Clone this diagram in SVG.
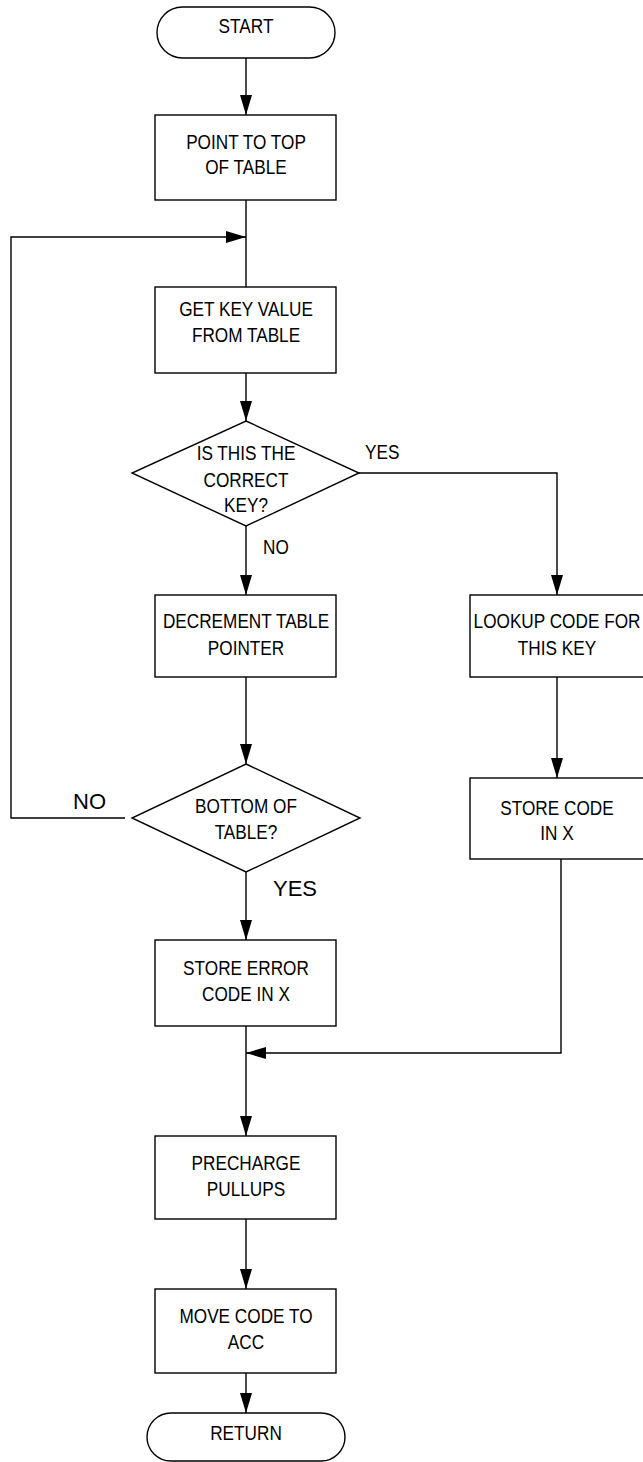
<svg xmlns="http://www.w3.org/2000/svg" width="643" height="1462" viewBox="0 0 643 1462">
<style>
.s{fill:#fff;stroke:#000;stroke-width:1.4}
.c{fill:none;stroke:#000;stroke-width:1.4}
.t{font-family:"Liberation Sans",Arial,sans-serif;font-size:20px;fill:#000;text-anchor:middle}
.l{font-family:"Liberation Sans",Arial,sans-serif;font-size:20px;fill:#000}
.b{font-family:"Liberation Sans",Arial,sans-serif;font-size:22px;fill:#000}
</style>
<defs>
<marker id="a" markerWidth="20" markerHeight="12" refX="20" refY="6" orient="auto" markerUnits="userSpaceOnUse" viewBox="0 0 20 12">
<path d="M0,0 L20,6 L0,12 Z" fill="#000"/>
</marker>
</defs>
<g id="connectors">
<path class="c" d="M246,58 V115" marker-end="url(#a)"/>
<path class="c" d="M246,200 V287"/>
<path class="c" d="M125,818 H11 V237 H246" marker-end="url(#a)"/>
<path class="c" d="M246,373 V421" marker-end="url(#a)"/>
<path class="c" d="M246,526 V595" marker-end="url(#a)"/>
<path class="c" d="M359,473 H557 V595" marker-end="url(#a)"/>
<path class="c" d="M246,677 V764" marker-end="url(#a)"/>
<path class="c" d="M246,872 V940" marker-end="url(#a)"/>
<path class="c" d="M557,677 V778" marker-end="url(#a)"/>
<path class="c" d="M561,859 V1053 H246" marker-end="url(#a)"/>
<path class="c" d="M246,1026 V1136" marker-end="url(#a)"/>
<path class="c" d="M246,1219 V1289" marker-end="url(#a)"/>
<path class="c" d="M246,1373 V1413" marker-end="url(#a)"/>
</g>
<g id="start">
<rect class="s" x="157" y="7" width="178" height="51" rx="25.5"/>
<g transform="translate(246,0) scale(0.86,1)"><text class="t" x="0" y="33">START</text></g>
</g>
<g id="point-top">
<rect class="s" x="155" y="115" width="181" height="85"/>
<g transform="translate(246,0) scale(0.86,1)">
<text class="t" x="0" y="149">POINT TO TOP</text>
<text class="t" x="0" y="174">OF TABLE</text>
</g>
</g>
<g id="get-key">
<rect class="s" x="155" y="287" width="181" height="86"/>
<g transform="translate(246,0) scale(0.86,1)">
<text class="t" x="0" y="316">GET KEY VALUE</text>
<text class="t" x="0" y="342">FROM TABLE</text>
</g>
</g>
<g id="is-correct">
<polygon class="s" points="246,421 359,473 246,526 132,473"/>
<g transform="translate(246,0) scale(0.86,1)">
<text class="t" x="0" y="460">IS THIS THE</text>
<text class="t" x="0" y="487">CORRECT</text>
<text class="t" x="0" y="512">KEY?</text>
</g>
</g>
<g id="labels-1">
<g transform="translate(365,0) scale(0.86,1)"><text class="l" x="0" y="459">YES</text></g>
<g transform="translate(263,0) scale(0.86,1)"><text class="l" x="0" y="554">NO</text></g>
</g>
<g id="decrement">
<rect class="s" x="155" y="595" width="181" height="82"/>
<g transform="translate(246,0) scale(0.86,1)">
<text class="t" x="0" y="628">DECREMENT TABLE</text>
<text class="t" x="0" y="655">POINTER</text>
</g>
</g>
<g id="lookup">
<rect class="s" x="470" y="595" width="185" height="82"/>
<g transform="translate(557,0) scale(0.86,1)">
<text class="t" x="0" y="628">LOOKUP CODE FOR</text>
<text class="t" x="0" y="655">THIS KEY</text>
</g>
</g>
<g id="bottom">
<polygon class="s" points="246,764 360,818 246,872 132,818"/>
<g transform="translate(246,0) scale(0.86,1)">
<text class="t" x="0" y="813">BOTTOM OF</text>
<text class="t" x="0" y="839">TABLE?</text>
</g>
</g>
<g id="labels-2">
<text class="b" x="73" y="809">NO</text>
<text class="b" x="273" y="896">YES</text>
</g>
<g id="store-code">
<rect class="s" x="470" y="778" width="185" height="81"/>
<g transform="translate(557,0) scale(0.86,1)">
<text class="t" x="0" y="815">STORE CODE</text>
<text class="t" x="0" y="840">IN X</text>
</g>
</g>
<g id="store-error">
<rect class="s" x="155" y="940" width="181" height="86"/>
<g transform="translate(246,0) scale(0.86,1)">
<text class="t" x="0" y="975">STORE ERROR</text>
<text class="t" x="0" y="1001">CODE IN X</text>
</g>
</g>
<g id="precharge">
<rect class="s" x="155" y="1136" width="181" height="83"/>
<g transform="translate(246,0) scale(0.86,1)">
<text class="t" x="0" y="1170">PRECHARGE</text>
<text class="t" x="0" y="1196">PULLUPS</text>
</g>
</g>
<g id="move-code">
<rect class="s" x="155" y="1289" width="181" height="84"/>
<g transform="translate(246,0) scale(0.86,1)">
<text class="t" x="0" y="1323">MOVE CODE TO</text>
<text class="t" x="0" y="1349">ACC</text>
</g>
</g>
<g id="return">
<rect class="s" x="147" y="1413" width="198" height="48" rx="24"/>
<g transform="translate(246,0) scale(0.86,1)"><text class="t" x="0" y="1440">RETURN</text></g>
</g>
</svg>
